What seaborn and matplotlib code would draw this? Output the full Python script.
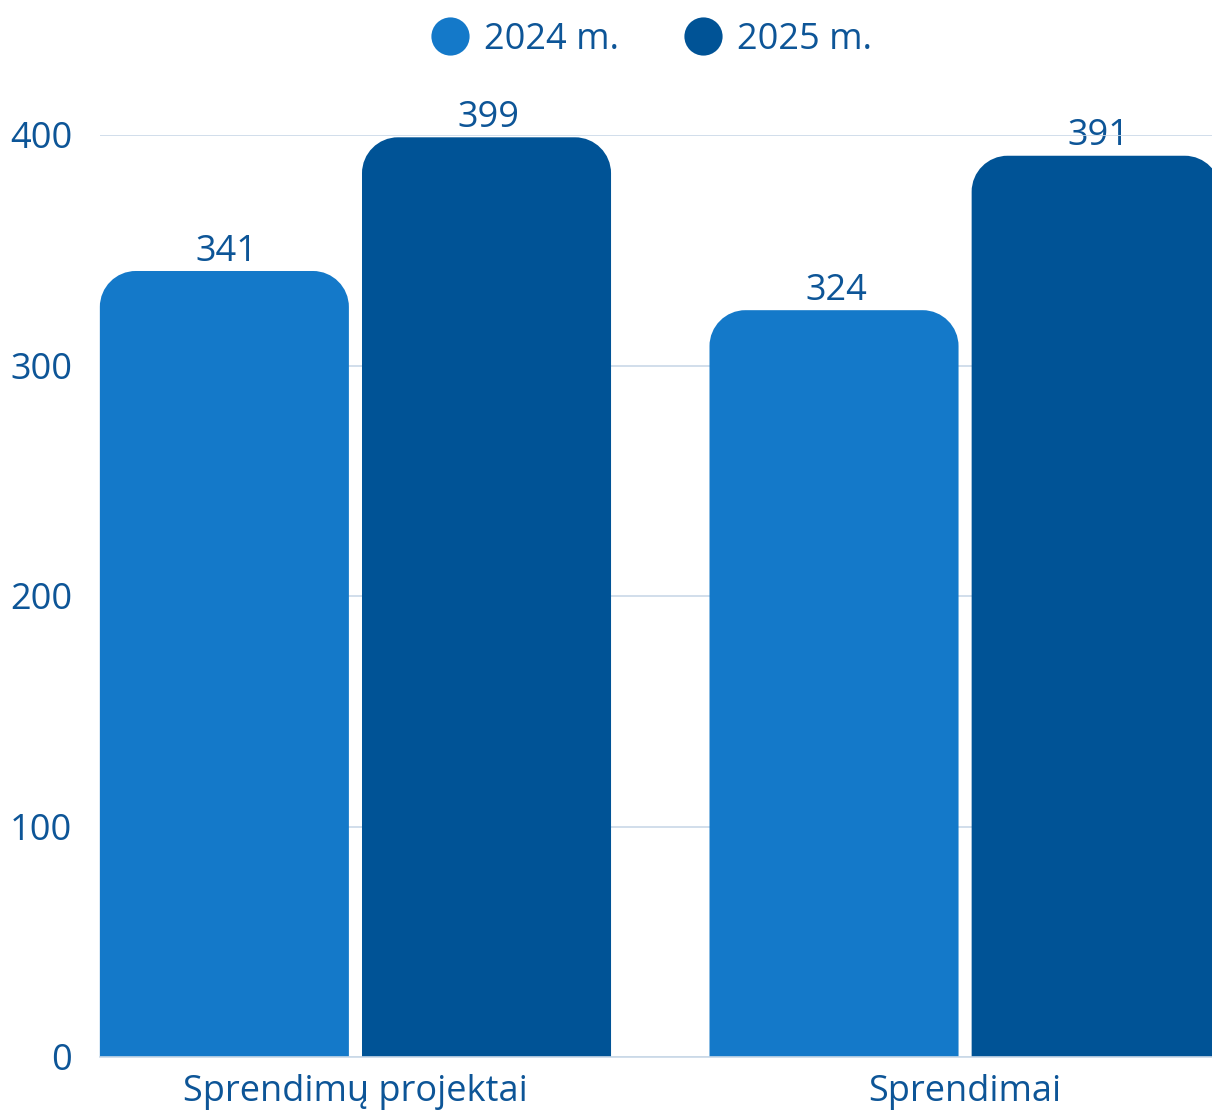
"""Sprendimų projektai / Sprendimai, 2024 m. vs 2025 m."""

import matplotlib.pyplot as plt
import numpy as np
import pandas as pd
import seaborn as sns
from matplotlib.lines import Line2D
from matplotlib.patches import PathPatch
from matplotlib.path import Path

categories = ["Sprendimų projektai", "Sprendimai"]
years = ["2024 m.", "2025 m."]
values_2024 = [341, 324]
values_2025 = [399, 391]
y_ticks = [0, 100, 200, 300, 400]

colors = {"2024 m.": "#1479c9", "2025 m.": "#005396"}
text_color = "#0d5597"
grid_color = "#c9d8e7"

df = pd.DataFrame({
    "kategorija": categories * 2,
    "metai": [years[0]] * 2 + [years[1]] * 2,
    "reiksme": values_2024 + values_2025,
})

sns.set_theme(style="white")
plt.rcParams["font.family"] = ["Open Sans", "DejaVu Sans"]

fig = plt.figure(figsize=(12.12, 11.11), dpi=100)
ax = fig.add_axes([100 / 1212, 1 - 1057 / 1111, 1 - 100 / 1212, (1057 - 135) / 1111])

sns.barplot(data=df, x="kategorija", y="reiksme", hue="metai",
            palette=colors, width=0.86, gap=0.05, legend=False,
            saturation=1, ax=ax)

ax.set_xlim(-0.419, 1.405)
ax.set_ylim(0, 400)
ax.set_yticks(y_ticks)
ax.set_xlabel("")
ax.set_ylabel("")
ax.yaxis.grid(True, color=grid_color, linewidth=1.2)
ax.set_axisbelow(True)
for side in ["left", "right", "top"]:
    ax.spines[side].set_visible(False)
ax.spines["bottom"].set_color(grid_color)
ax.spines["bottom"].set_linewidth(1.2)
ax.tick_params(axis="y", length=0, pad=20, labelsize=26, labelcolor=text_color)
ax.tick_params(axis="x", length=0, pad=12, labelsize=26, labelcolor=text_color)

# pixel -> data scale for the rounded corners
fig.canvas.draw()
bbox = ax.get_window_extent()
px_x = bbox.width / (ax.get_xlim()[1] - ax.get_xlim()[0])
px_y = bbox.height / (ax.get_ylim()[1] - ax.get_ylim()[0])
radius_px = 36
rx, ry = radius_px / px_x, radius_px / px_y
k = 0.5523

for patch in list(ax.patches):
    x, w, h = patch.get_x(), patch.get_width(), patch.get_height()
    color = patch.get_facecolor()
    patch.remove()
    verts = [
        (x, 0), (x, h - ry),
        (x, h - ry + k * ry), (x + rx - k * rx, h), (x + rx, h),
        (x + w - rx, h),
        (x + w - rx + k * rx, h), (x + w, h - ry + k * ry), (x + w, h - ry),
        (x + w, 0), (x, 0),
    ]
    codes = [Path.MOVETO, Path.LINETO,
             Path.CURVE4, Path.CURVE4, Path.CURVE4,
             Path.LINETO,
             Path.CURVE4, Path.CURVE4, Path.CURVE4,
             Path.LINETO, Path.CLOSEPOLY]
    ax.add_patch(PathPatch(Path(verts, codes), facecolor=color,
                           edgecolor="none", zorder=2, clip_on=False))
    ax.annotate(f"{h:.0f}", (x + w / 2 + 2 / px_x, h), xytext=(0, 1),
                textcoords="offset points", ha="center", va="bottom",
                fontsize=26, color=text_color, zorder=0.4,
                annotation_clip=False)

handles = [Line2D([], [], marker="o", linestyle="none", markersize=27.5,
                  markerfacecolor=colors[y], markeredgecolor="none")
           for y in years]
fig.legend(handles, years, loc="center", bbox_to_anchor=(652 / 1212, 1 - 40 / 1111),
           ncol=2, frameon=False, fontsize=26, labelcolor=text_color,
           handletextpad=0.45, columnspacing=1.8, handlelength=1.0)

fig.savefig("out.png", dpi=100)
